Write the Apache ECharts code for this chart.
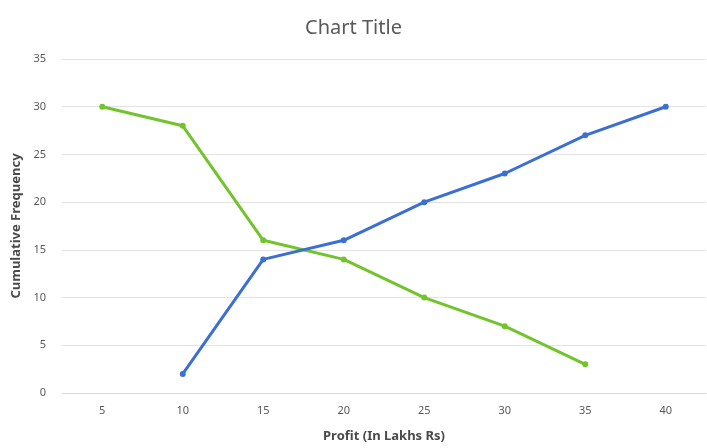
<!DOCTYPE html>
<html>
<head>
<meta charset="utf-8">
<script src="https://cdn.jsdelivr.net/npm/echarts@6/dist/echarts.min.js"></script>
<style>
  html, body { margin: 0; padding: 0; background: #fff; }
  #chart { width: 707px; height: 448px; }
</style>
</head>
<body>
<div id="chart"></div>
<script>
// Profit classes (in lakhs Rs) and the two cumulative frequency curves
const categories = ['5', '10', '15', '20', '25', '30', '35', '40'];
const moreThanSeries = [30, 28, 16, 14, 10, 7, 3, null];
const lessThanSeries = [null, 2, 14, 16, 20, 23, 27, 30];
const yTicks = { min: 0, max: 35, step: 5 };

const chart = echarts.init(document.getElementById('chart'));
const font = 'Noto Sans';

chart.setOption({
  animation: false,
  backgroundColor: '#ffffff',
  title: {
    text: 'Chart Title',
    left: 'center',
    top: 13,
    textStyle: { fontFamily: font, fontSize: 20, fontWeight: 'normal', color: '#595959' }
  },
  grid: { left: 62, right: 1, top: 59, bottom: 54 },
  xAxis: {
    type: 'category',
    data: categories,
    boundaryGap: true,
    name: 'Profit (In Lakhs Rs)',
    nameLocation: 'middle',
    nameGap: 37,
    nameTextStyle: { fontFamily: font, fontSize: 13, fontWeight: 'bold', color: '#4a4a4a' },
    axisLine: { lineStyle: { color: '#d9d9d9', width: 1 } },
    axisTick: { show: false },
    axisLabel: { fontFamily: font, fontSize: 11, color: '#595959', margin: 12 }
  },
  yAxis: {
    type: 'value',
    min: yTicks.min,
    max: yTicks.max,
    interval: yTicks.step,
    name: 'Cumulative Frequency',
    nameLocation: 'middle',
    nameGap: 37,
    nameRotate: 90,
    nameTextStyle: { fontFamily: font, fontSize: 13, fontWeight: 'bold', color: '#4a4a4a' },
    axisLine: { show: false },
    axisTick: { show: false },
    axisLabel: { fontFamily: font, fontSize: 11, color: '#595959', margin: 16 },
    splitLine: { lineStyle: { color: '#e3e3e3', width: 1 } }
  },
  series: [
    {
      name: 'More than',
      type: 'line',
      data: moreThanSeries,
      symbol: 'circle',
      symbolSize: 6,
      connectNulls: false,
      lineStyle: { color: '#72c42c', width: 3 },
      itemStyle: { color: '#72c42c' }
    },
    {
      name: 'Less than',
      type: 'line',
      data: lessThanSeries,
      symbol: 'circle',
      symbolSize: 6,
      connectNulls: false,
      lineStyle: { color: '#3b6fd6', width: 3 },
      itemStyle: { color: '#3b6fd6' }
    }
  ]
});
</script>
</body>
</html>
